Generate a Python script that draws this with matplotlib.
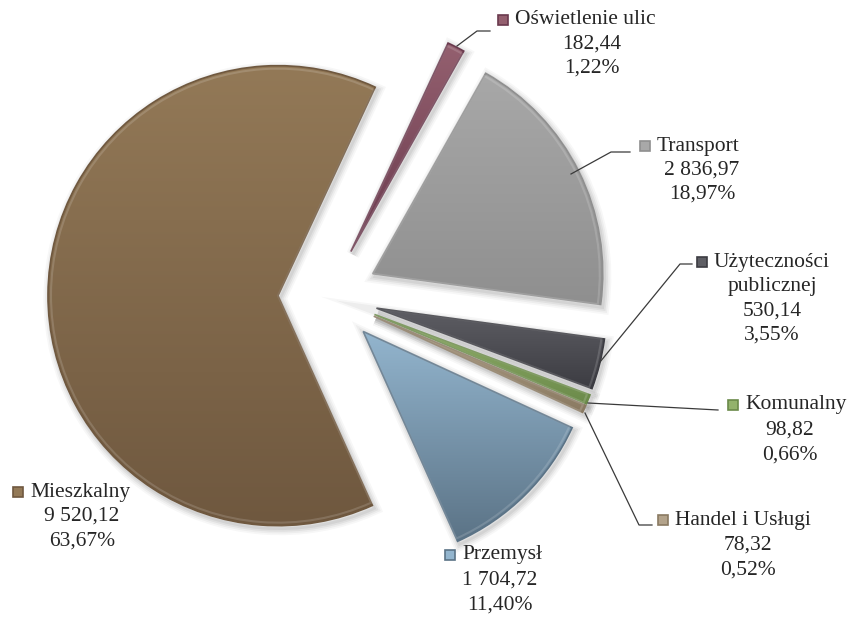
import matplotlib.pyplot as plt
import numpy as np
from matplotlib.colors import LinearSegmentedColormap
from matplotlib.patches import Wedge

# energy use by sector
categories = ["Oświetlenie ulic", "Transport", "Użyteczności\npublicznej", "Komunalny",
              "Handel i Usługi", "Przemysł", "Mieszkalny"]
values = [182.44, 2836.97, 530.14, 98.82, 78.32, 1704.72, 9520.12]

# fill gradients (top colour, bottom colour)
light = ["#94606f", "#a8a8a8", "#5e5e64", "#93b26c", "#b3a38b", "#93b5ce", "#937957"]
dark = ["#6a3a4e", "#8f8f8f", "#3c3c42", "#6b8a4a", "#8a7a62", "#5b7386", "#6f583f"]

W, H = 857, 617
fig = plt.figure(figsize=(W / 100, H / 100), dpi=100)
ax = fig.add_axes([0, 0, 1, 1])

R = 230
center = (328, H - 296)
wedges, _ = ax.pie(values, radius=R, center=center, startangle=65, counterclock=False,
                   explode=[50] * len(values), wedgeprops=dict(linewidth=0))

grad = np.linspace(0, 1, 256).reshape(-1, 1)
for w, c1, c2 in zip(wedges, light, dark):
    w.set_facecolor(c2)
    # soft drop shadow
    for k, a in enumerate([0.06, 0.05, 0.04, 0.03]):
        sh = Wedge((w.center[0] + 2, w.center[1] - 3), w.r, w.theta1, w.theta2,
                   facecolor="none", edgecolor="#000000", lw=2 + 2.5 * k, alpha=a, zorder=0.5)
        ax.add_patch(sh)
    x0, y0, x1, y1 = w.get_path().get_extents(w.get_patch_transform()).extents
    cmap = LinearSegmentedColormap.from_list("g", [c1, c2])
    im = ax.imshow(grad, extent=(x0, x1, y0, y1), cmap=cmap, origin="upper",
                   interpolation="bilinear", zorder=1.5, aspect="auto")
    im.set_clip_path(w)
    w.set_zorder(1)
    edge = Wedge(w.center, w.r, w.theta1, w.theta2, facecolor="none",
                 edgecolor=c2, lw=1.2, zorder=2)
    ax.add_patch(edge)
    hl = Wedge(w.center, w.r - 3, w.theta1, w.theta2, facecolor="none",
               edgecolor="white", lw=1.5, alpha=0.15, zorder=2)
    ax.add_patch(hl)

total = sum(values)


def fmt_num(v):
    s = f"{v:,.2f}"
    return s.replace(",", " ").replace(".", ",")


def fmt_pct(v):
    return f"{v / total * 100:.2f}%".replace(".", ",")


# label layout in pixels: marker x, first line y, block centre x, line gap
label_pos = [
    (503, 20, 592, 24),
    (645, 146, 702, 24),
    (702, 262, 772, 24.5),
    (733, 405, 790, 25),
    (663, 520, 748, 25),
    (450, 555, 500, 25),
    (18, 492, 82, 24.5),
]

font = dict(family="Liberation Serif", size=15.5, color="#262626")
for name, v, c1, c2, (mx, ty, cx, gap) in zip(categories, values, light, dark, label_pos):
    lines = name.split("\n")
    ax.plot(mx, H - ty, marker="s", ms=7, mfc=c1, mec=c2, mew=1.2, zorder=3)
    ax.text(mx + 12, H - ty, lines[0], ha="left", va="center", **font)
    rest = lines[1:] + [fmt_num(v), fmt_pct(v)]
    for i, t in enumerate(rest, start=1):
        ax.text(cx, H - (ty + i * gap), t, ha="center", va="center", **font)

# leader lines
leaders = [
    [(457, 46), (477, 31), (490, 31)],
    [(571, 174), (611, 152), (630, 152)],
    [(600, 362), (680, 264), (692, 264)],
    [(588, 403), (718, 410)],
    [(585, 413), (639, 525), (652, 525)],
]
for pts in leaders:
    xs = [p[0] for p in pts]
    ys = [H - p[1] for p in pts]
    ax.plot(xs, ys, color="#3a3a3a", lw=0.9, zorder=3)

ax.set_xlim(0, W)
ax.set_ylim(0, H)
ax.set_aspect("equal")
ax.axis("off")

fig.savefig("out.png", dpi=100, facecolor="white")
